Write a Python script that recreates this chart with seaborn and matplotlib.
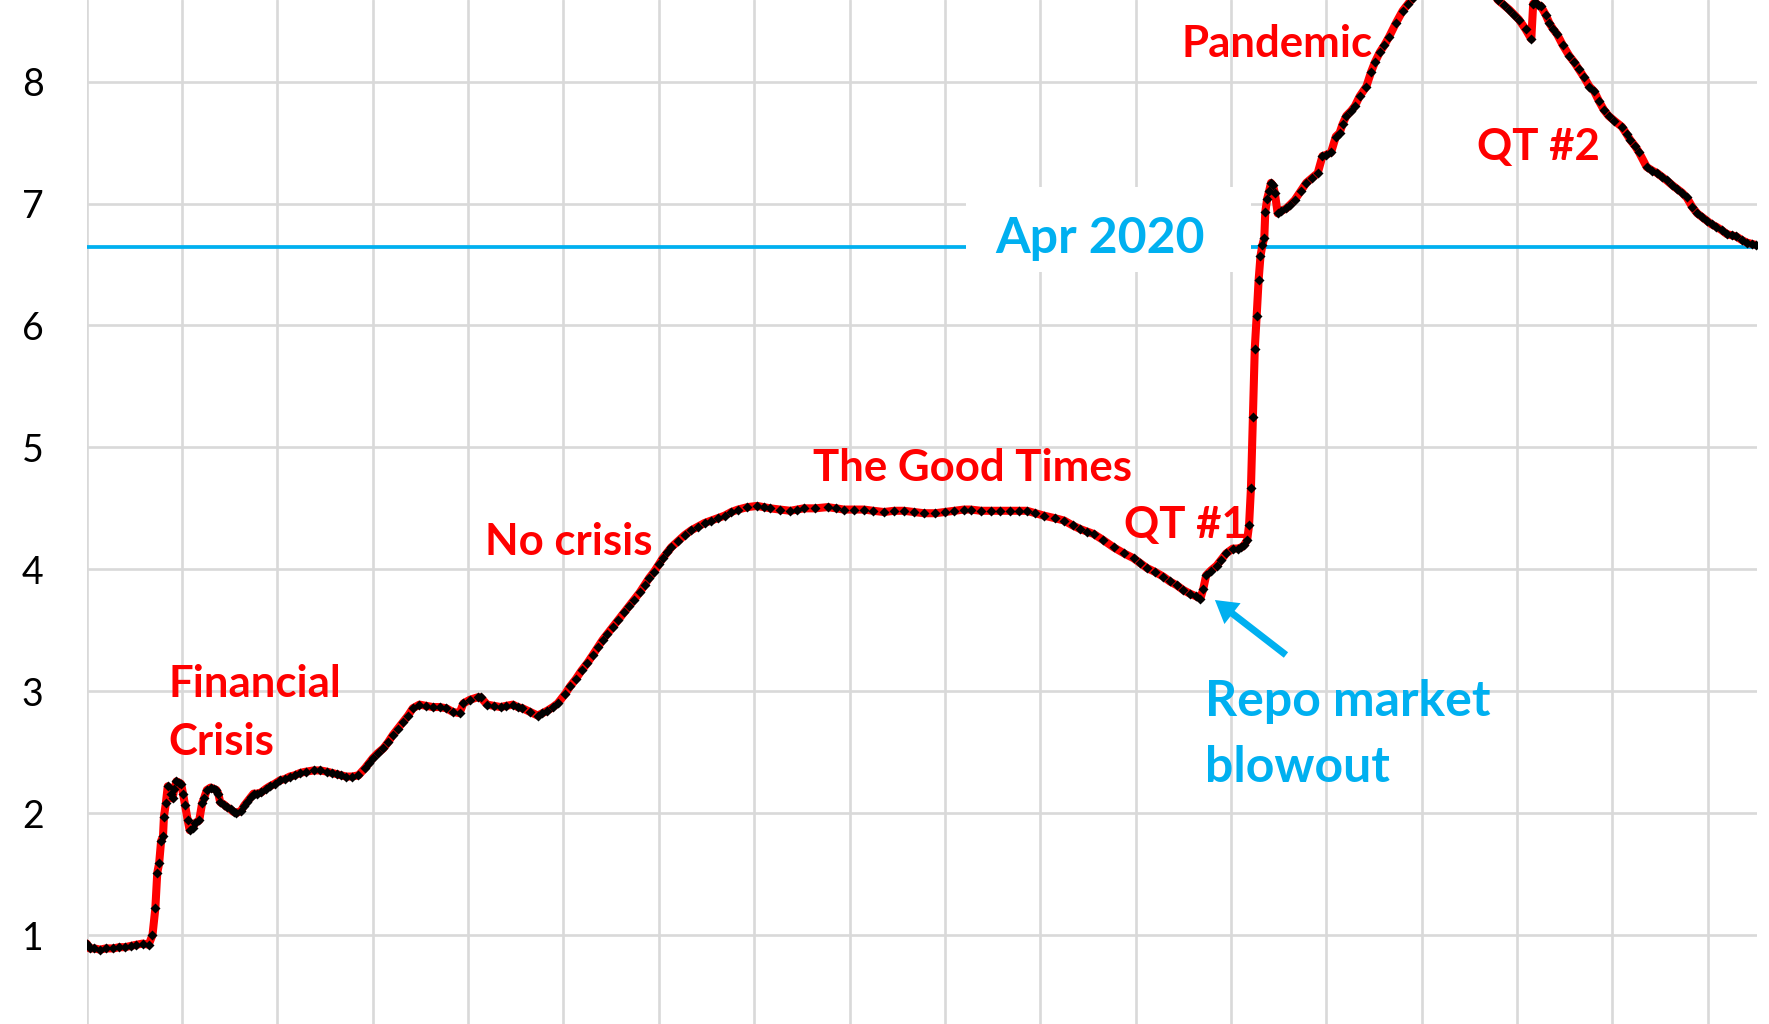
import numpy as np
import pandas as pd
import matplotlib
matplotlib.use("Agg")
import matplotlib.pyplot as plt
from matplotlib.patches import Rectangle
import seaborn as sns

# ---- data: Fed balance sheet (trillions USD), decimal years ----
yrs_crisis = [2008.00, 2008.03, 2008.08, 2008.14, 2008.20, 2008.28, 2008.34, 2008.40, 2008.46, 2008.52,
              2008.59, 2008.65, 2008.69, 2008.72, 2008.74, 2008.76, 2008.78, 2008.80, 2008.81, 2008.83,
              2008.85, 2008.88, 2008.90, 2008.92, 2008.94, 2008.97, 2008.99, 2009.01, 2009.03, 2009.06,
              2009.08, 2009.11, 2009.14, 2009.18, 2009.21, 2009.23, 2009.26, 2009.30, 2009.33, 2009.36,
              2009.38, 2009.40, 2009.44, 2009.47, 2009.51, 2009.54, 2009.57, 2009.62, 2009.65, 2009.68,
              2009.72, 2009.75, 2009.79, 2009.83, 2009.88, 2009.92, 2009.97]
val_crisis = [0.93, 0.89, 0.89, 0.88, 0.89, 0.89, 0.90, 0.90, 0.91, 0.92,
              0.93, 0.92, 1.00, 1.22, 1.51, 1.59, 1.77, 1.81, 1.97, 2.08,
              2.22, 2.16, 2.12, 2.20, 2.26, 2.25, 2.24, 2.16, 2.07, 1.94,
              1.86, 1.88, 1.92, 1.94, 2.08, 2.12, 2.19, 2.21, 2.20, 2.19,
              2.16, 2.09, 2.07, 2.05, 2.03, 2.01, 2.00, 2.02, 2.06, 2.09,
              2.13, 2.16, 2.16, 2.17, 2.20, 2.22, 2.24]

yrs_nocrisis = [2010.03, 2010.08, 2010.13, 2010.18, 2010.24, 2010.30, 2010.38, 2010.45, 2010.52, 2010.57,
                2010.62, 2010.67, 2010.72, 2010.78, 2010.85, 2010.92, 2010.96, 2011.00, 2011.05, 2011.11,
                2011.16, 2011.21, 2011.26, 2011.32, 2011.37, 2011.42, 2011.49, 2011.56, 2011.63, 2011.70,
                2011.77, 2011.84, 2011.91, 2011.95, 2012.02, 2012.10, 2012.13, 2012.20, 2012.27, 2012.34,
                2012.40, 2012.47, 2012.52, 2012.57, 2012.65, 2012.73, 2012.78, 2012.83, 2012.89, 2012.94,
                2013.02, 2013.07, 2013.13, 2013.19, 2013.25, 2013.31, 2013.36, 2013.41, 2013.46, 2013.52,
                2013.57, 2013.64, 2013.69, 2013.74, 2013.80, 2013.85, 2013.90, 2013.95, 2014.00, 2014.04,
                2014.09, 2014.13, 2014.20, 2014.27, 2014.34, 2014.41, 2014.48, 2014.55, 2014.62, 2014.69,
                2014.76, 2014.83, 2014.93]
val_nocrisis = [2.27, 2.28, 2.30, 2.31, 2.33, 2.34, 2.35, 2.35, 2.34, 2.33,
                2.32, 2.31, 2.30, 2.30, 2.31, 2.37, 2.41, 2.45, 2.49, 2.53,
                2.58, 2.64, 2.69, 2.75, 2.80, 2.86, 2.89, 2.88, 2.87, 2.87,
                2.86, 2.83, 2.82, 2.90, 2.93, 2.95, 2.95, 2.89, 2.88, 2.87,
                2.88, 2.89, 2.87, 2.86, 2.83, 2.80, 2.82, 2.84, 2.87, 2.90,
                2.98, 3.04, 3.10, 3.17, 3.23, 3.30, 3.36, 3.42, 3.47, 3.53,
                3.58, 3.65, 3.70, 3.75, 3.81, 3.87, 3.93, 3.98, 4.04, 4.09,
                4.14, 4.18, 4.23, 4.28, 4.32, 4.35, 4.38, 4.40, 4.42, 4.44,
                4.47, 4.49, 4.51]

yrs_good = [2015.03, 2015.10, 2015.17, 2015.27, 2015.38, 2015.45, 2015.52, 2015.64, 2015.77, 2015.86,
            2015.94, 2016.05, 2016.15, 2016.25, 2016.36, 2016.47, 2016.57, 2016.68, 2016.78, 2016.90,
            2017.00, 2017.10, 2017.20, 2017.27, 2017.38, 2017.48, 2017.58, 2017.68, 2017.78, 2017.86,
            2017.95]
val_good = [4.52, 4.51, 4.50, 4.49, 4.48, 4.49, 4.50, 4.50, 4.51, 4.50,
            4.49, 4.49, 4.49, 4.48, 4.47, 4.48, 4.48, 4.47, 4.46, 4.46,
            4.47, 4.48, 4.49, 4.49, 4.48, 4.48, 4.48, 4.48, 4.48, 4.48,
            4.46]

yrs_qt1 = [2018.04, 2018.15, 2018.25, 2018.34, 2018.42, 2018.49, 2018.56, 2018.66, 2018.77, 2018.88,
           2018.98, 2019.05, 2019.12, 2019.20, 2019.29, 2019.36, 2019.43, 2019.50, 2019.57, 2019.63,
           2019.68, 2019.71, 2019.74, 2019.79, 2019.85, 2019.90, 2019.95, 2020.02, 2020.07, 2020.11,
           2020.14]
val_qt1 = [4.44, 4.42, 4.40, 4.36, 4.33, 4.31, 4.29, 4.24, 4.18, 4.13,
           4.09, 4.05, 4.01, 3.98, 3.94, 3.90, 3.87, 3.83, 3.80, 3.78,
           3.76, 3.84, 3.95, 3.99, 4.03, 4.08, 4.13, 4.17, 4.17, 4.18,
           4.20]

yrs_pandemic = [2020.17, 2020.19, 2020.21, 2020.23, 2020.25, 2020.27, 2020.29, 2020.31, 2020.33, 2020.35,
                2020.36, 2020.38, 2020.40, 2020.42, 2020.44, 2020.46, 2020.49, 2020.53, 2020.58, 2020.62,
                2020.67, 2020.73, 2020.79, 2020.85, 2020.91, 2020.96, 2021.00, 2021.05, 2021.10, 2021.14,
                2021.17, 2021.21, 2021.26, 2021.30, 2021.35, 2021.42, 2021.47, 2021.51, 2021.56, 2021.61,
                2021.66, 2021.73, 2021.80, 2021.86, 2021.91, 2022.00, 2022.10, 2022.20, 2022.30, 2022.45]
val_pandemic = [4.24, 4.36, 4.67, 5.25, 5.81, 6.08, 6.37, 6.57, 6.66, 6.72,
                6.93, 7.04, 7.10, 7.17, 7.15, 7.09, 6.92, 6.94, 6.96, 6.99,
                7.03, 7.10, 7.17, 7.21, 7.25, 7.39, 7.40, 7.42, 7.55, 7.58,
                7.65, 7.72, 7.76, 7.80, 7.88, 7.96, 8.08, 8.16, 8.24, 8.30,
                8.37, 8.48, 8.58, 8.64, 8.69, 8.77, 8.87, 8.93, 8.96, 8.92]

yrs_qt2 = [2022.60, 2022.72, 2022.80, 2022.86, 2022.92, 2022.97, 2023.02, 2023.09, 2023.15, 2023.17,
           2023.19, 2023.22, 2023.25, 2023.30, 2023.34, 2023.38, 2023.42, 2023.48, 2023.55, 2023.60,
           2023.65, 2023.70, 2023.76, 2023.81, 2023.86, 2023.91, 2023.96, 2024.02, 2024.10, 2024.15,
           2024.19, 2024.24, 2024.28, 2024.36, 2024.42, 2024.47, 2024.52, 2024.57, 2024.63, 2024.68,
           2024.73, 2024.78, 2024.84, 2024.89, 2024.94, 2024.99, 2025.04, 2025.09, 2025.15, 2025.20,
           2025.25, 2025.30, 2025.36, 2025.41, 2025.46, 2025.51]
val_qt2 = [8.85, 8.75, 8.67, 8.63, 8.59, 8.55, 8.51, 8.43, 8.35, 8.64,
           8.65, 8.63, 8.62, 8.55, 8.48, 8.43, 8.39, 8.30, 8.21, 8.16,
           8.10, 8.04, 7.96, 7.92, 7.84, 7.77, 7.72, 7.68, 7.63, 7.57,
           7.52, 7.47, 7.42, 7.30, 7.27, 7.25, 7.22, 7.19, 7.15, 7.12,
           7.09, 7.05, 6.97, 6.92, 6.89, 6.86, 6.83, 6.81, 6.78, 6.75,
           6.74, 6.73, 6.70, 6.68, 6.67, 6.66]

apr2020_level = 6.646
ytick_values = [1, 2, 3, 4, 5, 6, 7, 8]
year_grid = list(range(2008, 2026))

df = pd.DataFrame({
    "year": yrs_crisis + yrs_nocrisis + yrs_good + yrs_qt1 + yrs_pandemic + yrs_qt2,
    "assets": val_crisis + val_nocrisis + val_good + val_qt1 + val_pandemic + val_qt2,
})

# ---- style ----
sns.set_theme(style="white")
plt.rcParams["font.family"] = ["Lato", "DejaVu Sans"]

RED = "#FF0000"
BLUE = "#00B0F0"
GRID = "#D9D9D9"

W, H = 1769, 1024
fig = plt.figure(figsize=(W / 100, H / 100), dpi=100)
ax = fig.add_axes([86.7 / W, 0.0, (1757 - 86.7) / W, 1.0])

ax.set_xlim(2008.0, 2025.517)
ax.set_ylim(0.27, 8.67)

ax.set_xticks(year_grid)
ax.set_yticks(ytick_values)
ax.set_yticklabels([str(v) for v in ytick_values])
ax.tick_params(axis="x", length=0, labelbottom=False)
ax.tick_params(axis="y", length=0, pad=31, labelsize=27, labelcolor="black")
for s in ax.spines.values():
    s.set_visible(False)
ax.grid(True, color=GRID, lw=1.9, zorder=0)
ax.set_axisbelow(True)

# Apr 2020 reference line
ax.axhline(apr2020_level, color=BLUE, lw=2.7, zorder=1.5)

# white box behind the "Apr 2020" label
ax.add_patch(Rectangle((2017.222, 6.44), 2020.211 - 2017.222, 7.137 - 6.44,
                       facecolor="white", edgecolor="none", zorder=2))

# series
sns.lineplot(data=df, x="year", y="assets", color=RED, lw=5.8, ax=ax,
             zorder=3, sort=False, estimator=None)
sns.scatterplot(data=df, x="year", y="assets", color="black", marker="D",
                s=26, linewidth=0, ax=ax, zorder=4, clip_on=True)
ax.set_xlabel("")
ax.set_ylabel("")

# annotations
red_kw = dict(color=RED, fontsize=31.5, fontweight="bold", ha="left", va="baseline", zorder=6)
ax.text(2008.856, 2.950, "Financial", **red_kw)
ax.text(2008.856, 2.477, "Crisis", **red_kw)
ax.text(2012.177, 4.117, "No crisis", **red_kw)
ax.text(2015.620, 4.724, "The Good Times", **red_kw)
ax.text(2018.879, 4.254, "QT #1", **red_kw)
ax.text(2019.484, 8.200, "Pandemic", **red_kw)
ax.text(2022.578, 7.358, "QT #2", **red_kw)

blue_kw = dict(color=BLUE, fontsize=36, fontweight="bold", ha="left", va="baseline", zorder=6)
ax.text(2017.526, 6.597, "Apr 2020", **blue_kw)
ax.text(2019.728, 2.797, "Repo market", **blue_kw)
ax.text(2019.728, 2.258, "blowout", **blue_kw)

ax.annotate("", xy=(2019.832, 3.748), xytext=(2020.577, 3.297),
            arrowprops=dict(arrowstyle="simple,head_length=16,head_width=19,tail_width=5",
                            mutation_scale=1, color=BLUE, lw=0, shrinkA=0, shrinkB=0),
            zorder=6)

fig.savefig("out.png", dpi=100)
